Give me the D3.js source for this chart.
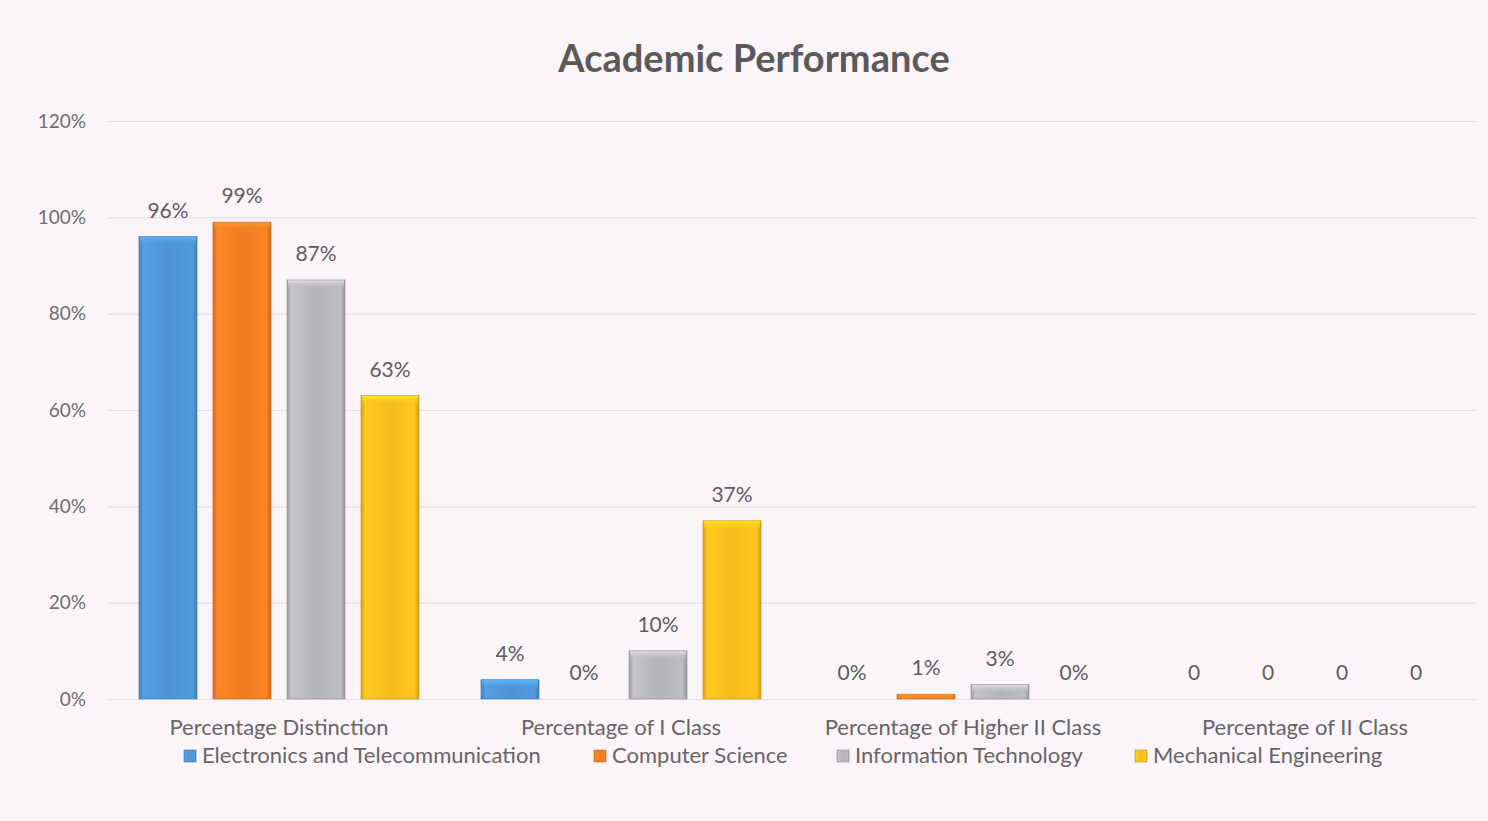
<!DOCTYPE html>
<html>
<head>
<meta charset="utf-8">
<script src="https://cdn.jsdelivr.net/npm/d3@7"></script>
<style>
  html, body { margin: 0; padding: 0; background: #fbf4f9; }
  svg { display: block; }
  text { font-family: Lato, "Open Sans", sans-serif; }
</style>
</head>
<body>
<svg id="chart" width="1488" height="821"></svg>
<script>
// Chart data
const categories = ["Percentage Distinction", "Percentage of  I Class", "Percentage of Higher II Class", "Percentage of  II Class"];
const seriesNames = ["Electronics and Telecommunication", "Computer Science", "Information Technology", "Mechanical Engineering"];
const electronics = [0.96, 0.04, 0.00, 0];
const computer    = [0.99, 0.00, 0.01, 0];
const infoTech    = [0.87, 0.10, 0.03, 0];
const mechanical  = [0.63, 0.37, 0.00, 0];
// the last category's labels are shown as plain numbers
const labelAsPercent = [true, true, true, false];
const yTicks = [0, 0.2, 0.4, 0.6, 0.8, 1.0, 1.2];

const seriesValues = [electronics, computer, infoTech, mechanical];
const colors = ["#4d93d3", "#ee7c22", "#b3b3b8", "#f4bb1c"];

const svg = d3.select("#chart");
const W = 1488, H = 821;
const margin = { left: 108, right: 12, top: 121, bottom: 122 };
const plotW = W - margin.left - margin.right;
const baseY = H - margin.bottom;

const x0 = d3.scaleBand().domain(d3.range(categories.length))
  .range([margin.left, margin.left + plotW]).padding(0);
const groupPad = 31;
const x1 = d3.scaleBand().domain(d3.range(seriesNames.length))
  .range([groupPad, x0.bandwidth() - groupPad]).paddingInner(0.216).paddingOuter(0);
const y = d3.scaleLinear().domain([0, 1.2]).range([baseY, margin.top]);

// gradients for the bevelled bars
const defs = svg.append("defs");
colors.forEach((c, i) => {
  const base = d3.color(c);
  const g = defs.append("linearGradient").attr("id", "bar" + i)
    .attr("x1", "0").attr("x2", "1").attr("y1", "0").attr("y2", "0");
  g.append("stop").attr("offset", "0").attr("stop-color", base.darker(0.35));
  g.append("stop").attr("offset", "0.08").attr("stop-color", base.brighter(0.25));
  g.append("stop").attr("offset", "0.5").attr("stop-color", c);
  g.append("stop").attr("offset", "0.92").attr("stop-color", base.brighter(0.15));
  g.append("stop").attr("offset", "1").attr("stop-color", base.darker(0.5));
  const t = defs.append("linearGradient").attr("id", "top" + i)
    .attr("x1", "0").attr("x2", "0").attr("y1", "0").attr("y2", "1");
  t.append("stop").attr("offset", "0").attr("stop-color", base.brighter(0.6));
  t.append("stop").attr("offset", "1").attr("stop-color", c).attr("stop-opacity", 0);
});

// title
svg.append("text").attr("x", 754).attr("y", 72).attr("text-anchor", "middle")
  .attr("font-size", 38).attr("font-weight", "bold").attr("fill", "#5a5a5a")
  .text("Academic Performance");

// y axis gridlines and labels
const yAxis = d3.axisLeft(y).tickValues(yTicks)
  .tickSize(-plotW).tickFormat(d3.format(".0%")).tickPadding(22);
const ga = svg.append("g").attr("transform", `translate(${margin.left},0)`).call(yAxis);
ga.select(".domain").remove();
ga.selectAll(".tick line").attr("stroke", "#e8dfe5").attr("stroke-width", 1.2);
ga.selectAll(".tick text").attr("font-size", 19).attr("fill", "#6e6e6e")
  .style("font-family", "Lato, 'Open Sans', sans-serif");

// bars
const groups = svg.append("g").selectAll("g").data(categories).join("g")
  .attr("transform", (d, i) => `translate(${x0(i)},0)`);

groups.each(function (cat, ci) {
  const g = d3.select(this);
  seriesValues.forEach((vals, si) => {
    const v = vals[ci];
    const bx = x1(si), bw = x1.bandwidth();
    const top = y(v), h = baseY - top;
    if (h > 0) {
      g.append("rect").attr("x", bx).attr("y", top).attr("width", bw).attr("height", h)
        .attr("fill", `url(#bar${si})`).attr("stroke", d3.color(colors[si]).darker(0.6))
        .attr("stroke-width", 0.6);
      g.append("rect").attr("x", bx + 1).attr("y", top + 0.5).attr("width", bw - 2)
        .attr("height", Math.min(9, h)).attr("fill", `url(#top${si})`);
    }
    const fmt = labelAsPercent[ci] ? d3.format(".0%") : d3.format("d");
    g.append("text").attr("x", bx + bw / 2).attr("y", top - 19)
      .attr("text-anchor", "middle").attr("font-size", 21).attr("fill", "#5e5e5e")
      .text(fmt(v));
  });
  g.append("text").attr("x", x0.bandwidth() / 2).attr("y", baseY + 36)
    .attr("text-anchor", "middle").attr("font-size", 22).attr("fill", "#666")
    .text(cat);
});

// legend
const legendX = [184, 594, 837, 1135];
const lg = svg.append("g").selectAll("g").data(seriesNames).join("g")
  .attr("transform", (d, i) => `translate(${legendX[i]},${baseY + 51})`);
lg.append("rect").attr("x", 0).attr("y", 0).attr("width", 12).attr("height", 12)
  .attr("fill", (d, i) => `url(#bar${i})`)
  .attr("stroke", (d, i) => d3.color(colors[i]).darker(0.6)).attr("stroke-width", 0.6);
lg.append("text").attr("x", 18).attr("y", 13).attr("font-size", 22).attr("fill", "#666")
  .text(d => d);
</script>
</body>
</html>
